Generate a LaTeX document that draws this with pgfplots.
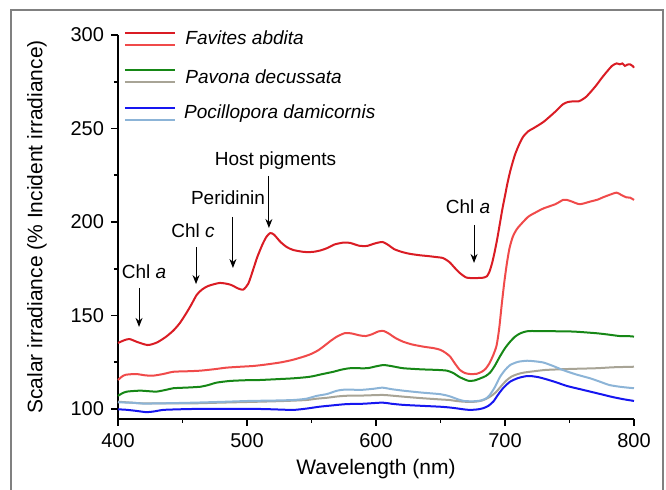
\documentclass[border=0pt]{standalone}
\usepackage{pgfplots}
\pgfplotsset{compat=1.18}
\usepackage{fontspec}
\setmainfont{Liberation Sans}
\usetikzlibrary{arrows.meta}

\definecolor{favA}{RGB}{218,28,36}
\definecolor{favB}{RGB}{240,74,74}
\definecolor{pavA}{RGB}{22,135,22}
\definecolor{pavB}{RGB}{168,164,150}
\definecolor{pocA}{RGB}{22,22,240}
\definecolor{pocB}{RGB}{140,180,215}
\definecolor{frame}{RGB}{128,128,128}

\begin{document}
\begin{tikzpicture}
\begin{axis}[
  scale only axis,
  width=258pt, height=192pt,
  xmin=400, xmax=800,
  ymin=94.65, ymax=300,
  axis lines=left,
  axis line style={-, line width=0.8pt},
  xtick={400,500,...,800},
  ytick={100,150,...,300},
  minor x tick num=1,
  minor y tick num=1,
  tick align=outside,
  major tick length=3.5pt,
  minor tick length=2pt,
  tick style={line width=0.8pt, black},
  ticklabel style={font=\fontsize{10}{12}\selectfont},
  /pgf/number format/assume math mode=true,
  xlabel={Wavelength (nm)},
  ylabel={Scalar irradiance (\% Incident irradiance)},
  label style={font=\fontsize{10.5}{12}\selectfont},
  xlabel style={yshift=1pt},
  ylabel style={yshift=5pt},
  clip=false,
  every axis plot/.append style={line width=1pt, smooth, tension=0.4},
]

% Favites abdita
\addplot[favA] coordinates {
(400,135.3)(405,136.8)(409,137.4)(415,135.8)(423,134.2)(430,135.5)(437,138.5)(443,142)
(448,146)(453,151.3)(457,156)(461,161)(465,163.8)(470,165.8)(479,167.4)(487,166.5)
(493,164.5)(497,163.8)(501,167)(505,175)(508,181.3)(512,188)(515,192)(518,194.1)
(521,193.2)(526,189.3)(531,186.5)(536,185)(544,184)(551,184)(557,184.8)(562,186)
(568,188)(575,189)(580,188.8)(587,187.3)(593,187.2)(599,188.5)(605,189.3)(610,187.5)
(614,185.5)(620,184)(626,183)(634,182.2)(640,181.8)(646,181.3)(652,180.7)(657,178.5)
(661,175.5)(665,172.7)(670,170.3)(676,170)(683,170.2)(686,171)(688,173.5)(690,178)
(692,184)(694,191)(696,199)(698,207)(700,214)(702,221)(704,227)(706,232)(708,236.5)
(711,241.5)(714,245.5)(718,248.5)(722,250.1)(730,253.6)(739,259)(745,263)(749,264.2)
(753,264.5)(757,264.5)(760,265.5)(763,267)(767,270)(771,273.3)(775,277)(779,280.4)
(783,283.5)(786.5,284.8)(789,284.3)(791,284.8)(793,283.5)(795,284.2)(797,284.3)
(799,283.4)(800,282.5)
};
\addplot[favB] coordinates {
(400,115.5)(403,117.3)(406,118.3)(414,118.7)(421,118)(427,117.8)(435,118.7)(443,119.9)
(455,120.2)(464,120.5)(475,121.3)(484,122.1)(495,122.6)(505,123)(515,123.8)(526,124.9)
(535,126.2)(544,128)(550,129.5)(555,131.3)(560,133.8)(565,136.5)(570,138.8)(576,140.6)
(581,140.4)(587,139.4)(592,139)(597,140)(602,141.5)(606,141.7)(610,140.3)(615,138)
(621,136)(628,134.5)(637,133.3)(645,132.5)(650,131.6)(654,130)(657.5,128)(661,124.5)
(665,120.9)(669,119.2)(673,118.7)(678,118.8)(682,119.9)(685,121.5)(688,124.5)(691,129)
(693.5,134)(695.5,143)(697.5,156)(699.5,168)(701.5,178)(703.5,186)(706,192)(709,196)
(712,198.5)(718,202.8)(724,205.2)(730,207.3)(739,209.5)(745,211.8)(748,211.8)(752,210.9)
(758,209.5)(766,210.9)(772,212)(776,213.2)(781,214.5)(786.5,215.7)(790,214.5)(794,213.2)
(797,213)(800,211.8)
};

% Pavona decussata
\addplot[pavA] coordinates {
(400,107)(403,108.3)(407,109.3)(417,109.8)(424,109.5)(430,109.3)(437,110.2)(443,111.1)
(455,111.5)(464,111.9)(470,112.8)(476.5,114.1)(487,115)(500,115.4)(510,115.5)(525,116)
(536,116.4)(546,117)(551,117.5)(558,118.6)(567,119.9)(573,121)(580,121.8)(593,121.8)
(600,122.8)(606,123.5)(613,122.8)(621,121.8)(635,121.2)(647,120.9)(655,120.5)(660,119.2)
(665,117)(671.5,115.1)(676,115.2)(681,116.4)(685,117.6)(688.5,119.5)(692,123)(696,128)
(700,132.5)(704,136)(708,138.8)(712,140.5)(716,141.4)(720,141.7)(735,141.6)(753,141.4)
(771,140.5)(780,139.8)(789,139)(795,139)(800,138.7)
};
\addplot[pavB] coordinates {
(400,103.9)(410,103.4)(420,103)(440,103)(458,103)(480,103.4)(510,103.9)(530,104.3)
(546,104.8)(554,105.5)(562,106)(570,106.7)(578,107.1)(590,107.2)(605,107.5)(613,107.1)
(621,106.6)(635,105.8)(650,105.1)(657,104.8)(662,104.3)(668,103.9)(675,103.8)(681,104.3)
(685,105.3)(689,106.8)(693,109)(697,112.2)(701,115.2)(705,117.3)(710,118.7)(715,119.5)
(724,120.3)(732,120.9)(750,121.4)(771,121.8)(784,122.3)(800,122.6)
};

% Pocillopora damicornis
\addplot[pocB] coordinates {
(400,103.5)(410,103.4)(420,102.9)(440,103.1)(460,103.4)(480,103.8)(502,104.3)(520,104.5)
(536,104.8)(546,105.5)(554,107)(562,108)(570,109.8)(577,110.4)(588,110.2)(598,110.8)
(605,111.4)(612,110.6)(621,109.8)(635,108.8)(650,107.9)(657,106.8)(663,105.3)(668,104.3)
(675,104.1)(681,104.5)(685,105.5)(688,107.3)(692,111.5)(696,117)(700,120.8)(704,123.5)
(710,125.2)(717,125.8)(723,125.5)(730,124.8)(738,122.8)(745,120.8)(755,118.5)(766,116.4)
(774,114.5)(781,112.8)(790,111.8)(800,111.1)
};
\addplot[pocA] coordinates {
(400,99.8)(406,99.6)(414,99)(422,98.3)(428,98.7)(435,99.5)(446,99.8)(458,100)(480,100)
(510,100)(525,99.7)(536,99.5)(546,100.2)(556,101.2)(566,101.9)(577,102.6)(590,102.8)
(605,103.4)(612,102.8)(621,102.2)(635,101.7)(650,101.2)(657,100.8)(663,100.3)(668,99.8)
(673,99.5)(679,99.8)(683,100.4)(687,101.6)(691,104)(695,108)(699,111.5)(704,114.6)
(710,116.5)(716,117.5)(720,117.6)(726,117)(732,115.9)(740,114.2)(748,112.3)(757,110.8)
(766,109.3)(775,107.8)(784,106.3)(792,105.2)(800,104.3)
};

% legend
\draw[favA, line width=1pt] (axis cs:405.4,301.1) -- (axis cs:444.2,301.1);
\draw[favB, line width=1pt] (axis cs:405.4,294.7) -- (axis cs:444.2,294.7);
\draw[pavA, line width=1pt] (axis cs:405.4,281.3) -- (axis cs:444.2,281.3);
\draw[pavB, line width=1pt] (axis cs:405.4,274.9) -- (axis cs:444.2,274.9);
\draw[pocA, line width=1pt] (axis cs:405.4,261.0) -- (axis cs:444.2,261.0);
\draw[pocB, line width=1pt] (axis cs:405.4,254.5) -- (axis cs:444.2,254.5);
\begin{scope}[every node/.style={anchor=west, inner sep=0pt, font=\fontsize{9.5}{11}\selectfont\itshape}]
\node at (axis cs:452,298.4) {Favites abdita};
\node at (axis cs:452,277.5) {Pavona decussata};
\node at (axis cs:451,257.8) {Pocillopora damicornis};
\end{scope}

% annotations
\begin{scope}[every node/.style={inner sep=0pt, font=\fontsize{9.5}{11}\selectfont},
  ann/.style={-{Stealth[length=4.5pt,width=3.5pt]}, line width=0.5pt, black}]
\node at (axis cs:420.2,173.3) {Chl \textit{a}};
\draw[ann] (axis cs:416.3,164.7) -- (axis cs:416.3,143.9);
\node at (axis cs:458.1,195.2) {Chl \textit{c}};
\draw[ann] (axis cs:460.5,186.6) -- (axis cs:460.5,166.8);
\node at (axis cs:485.3,212.8) {Peridinin};
\draw[ann] (axis cs:489.1,202.7) -- (axis cs:489.1,175.4);
\node at (axis cs:522.1,232.6) {Host pigments};
\draw[ann] (axis cs:517,224.6) -- (axis cs:517,196.8);
\node at (axis cs:671.3,208) {Chl \textit{a}};
\draw[ann] (axis cs:676,198.4) -- (axis cs:676,178.1);
\end{scope}
\end{axis}

% outer frame
\draw[frame, line width=0.8pt] (-53.5pt,-45pt) -- (-53.5pt,204.5pt) -- (272.5pt,204.5pt) -- (272.5pt,-45pt);
\pgfresetboundingbox
\useasboundingbox (-59pt,-35.5pt) rectangle (274pt,209.5pt);
\end{tikzpicture}
\end{document}
